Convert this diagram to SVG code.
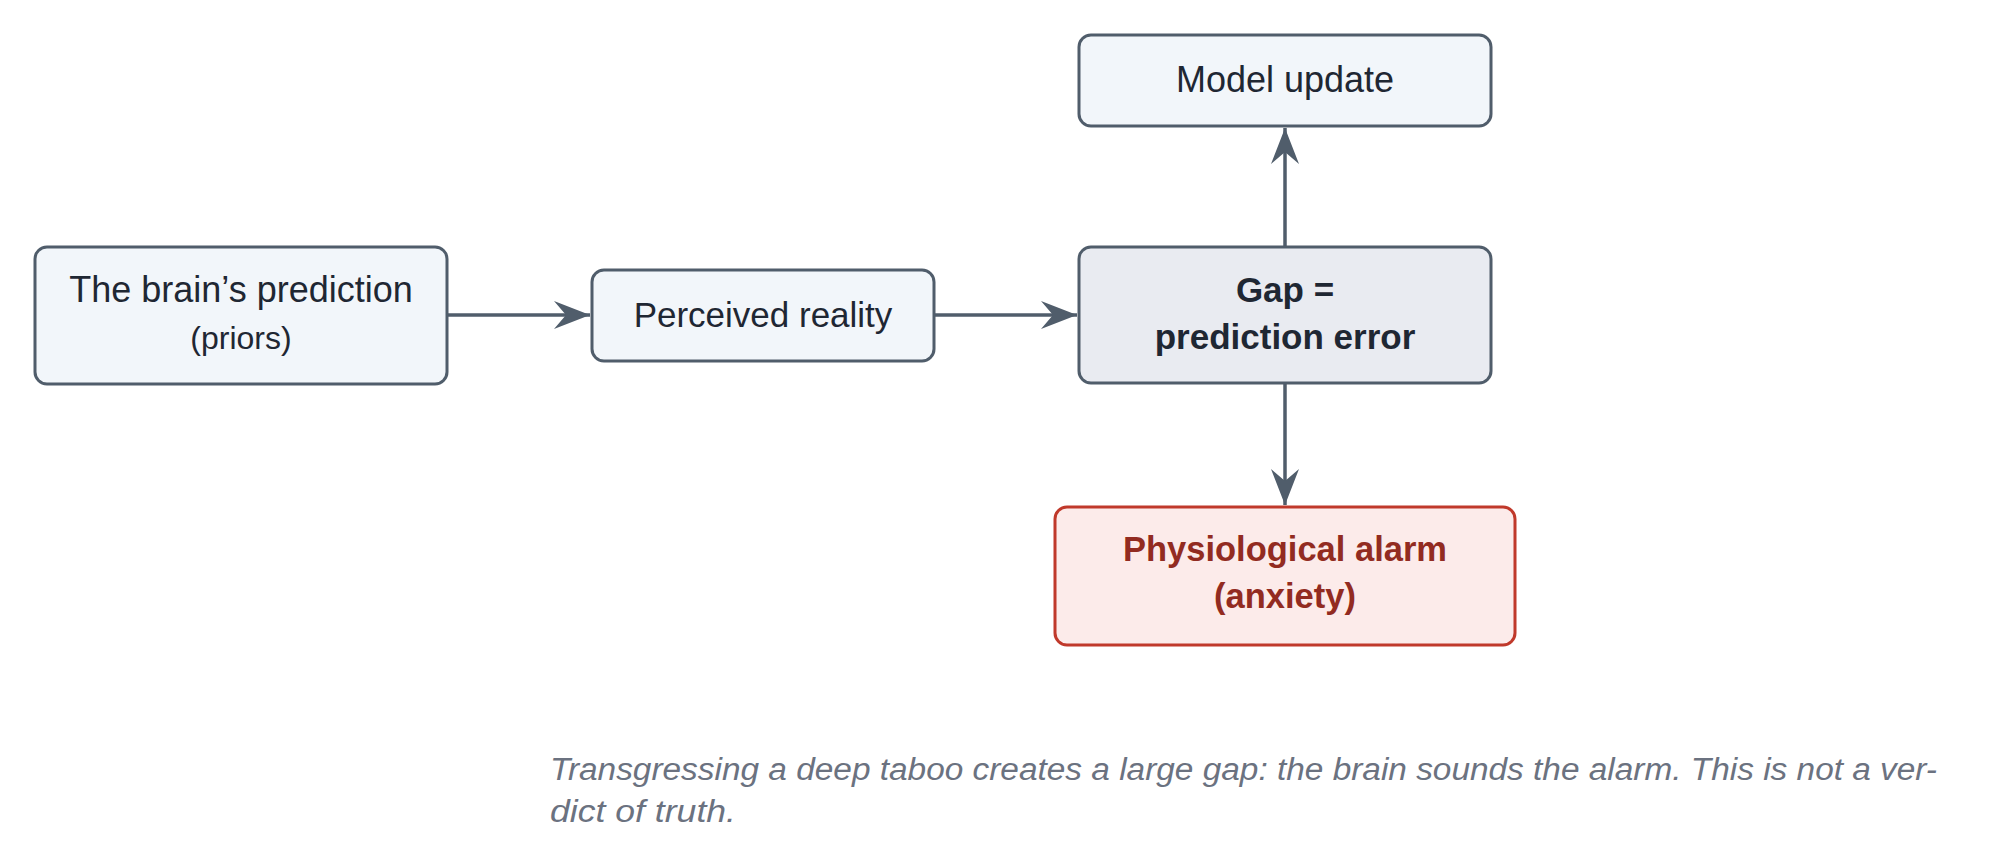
<svg xmlns="http://www.w3.org/2000/svg" width="2014" height="867" viewBox="0 0 2014 867">
<style>
.box{fill:#f2f6fa;stroke:#505d6b;stroke-width:3}
.gap{fill:#e9ebf1;stroke:#505d6b;stroke-width:3}
.alarm{fill:#fcebea;stroke:#c0392b;stroke-width:3}
.t{font-family:"Liberation Sans",Arial,sans-serif;fill:#1f2733;text-anchor:middle}
.b{font-weight:bold}
.red{fill:#922b21}
.edge{stroke:#505d6b;stroke-width:3.5;fill:none}
.cap{font-family:"Liberation Sans",Arial,sans-serif;font-style:italic;fill:#6b7280;font-size:31px}
</style>
<defs>
<marker id="ah" viewBox="0 0 36 28" refX="36" refY="14" markerWidth="36" markerHeight="28" markerUnits="userSpaceOnUse" orient="auto">
<path d="M0,0 L36,14 L0,28 L12,14 Z" fill="#505d6b"/>
</marker>
</defs>
<rect width="2014" height="867" fill="#ffffff"/>
<g id="connectors">
<line class="edge" x1="447" y1="315" x2="590" y2="315" marker-end="url(#ah)"/>
<line class="edge" x1="934" y1="315" x2="1077" y2="315" marker-end="url(#ah)"/>
<line class="edge" x1="1285" y1="247" x2="1285" y2="128" marker-end="url(#ah)"/>
<line class="edge" x1="1285" y1="383" x2="1285" y2="505" marker-end="url(#ah)"/>
</g>
<g id="prediction">
<rect class="box" x="35" y="247" width="412" height="137" rx="12"/>
<text class="t" x="241" y="302" font-size="36">The brain’s prediction</text>
<text class="t" x="241" y="349" font-size="32">(priors)</text>
</g>
<g id="perceived">
<rect class="box" x="592" y="270" width="342" height="91" rx="12"/>
<text class="t" x="763" y="327" font-size="35">Perceived reality</text>
</g>
<g id="gap">
<rect class="gap" x="1079" y="247" width="412" height="136" rx="12"/>
<text class="t b" x="1285" y="302" font-size="35">Gap =</text>
<text class="t b" x="1285" y="349" font-size="35">prediction error</text>
</g>
<g id="update">
<rect class="box" x="1079" y="35" width="412" height="91" rx="12"/>
<text class="t" x="1285" y="92" font-size="36">Model update</text>
</g>
<g id="alarm">
<rect class="alarm" x="1055" y="507" width="460" height="138" rx="12"/>
<text class="t b red" x="1285" y="561" font-size="34.5">Physiological alarm</text>
<text class="t b red" x="1285" y="608" font-size="34.5">(anxiety)</text>
</g>
<g id="caption">
<text class="cap" x="550" y="780" textLength="1387" lengthAdjust="spacingAndGlyphs">Transgressing a deep taboo creates a large gap: the brain sounds the alarm. This is not a ver-</text>
<text class="cap" x="550" y="822" textLength="186" lengthAdjust="spacingAndGlyphs">dict of truth.</text>
</g>
</svg>
